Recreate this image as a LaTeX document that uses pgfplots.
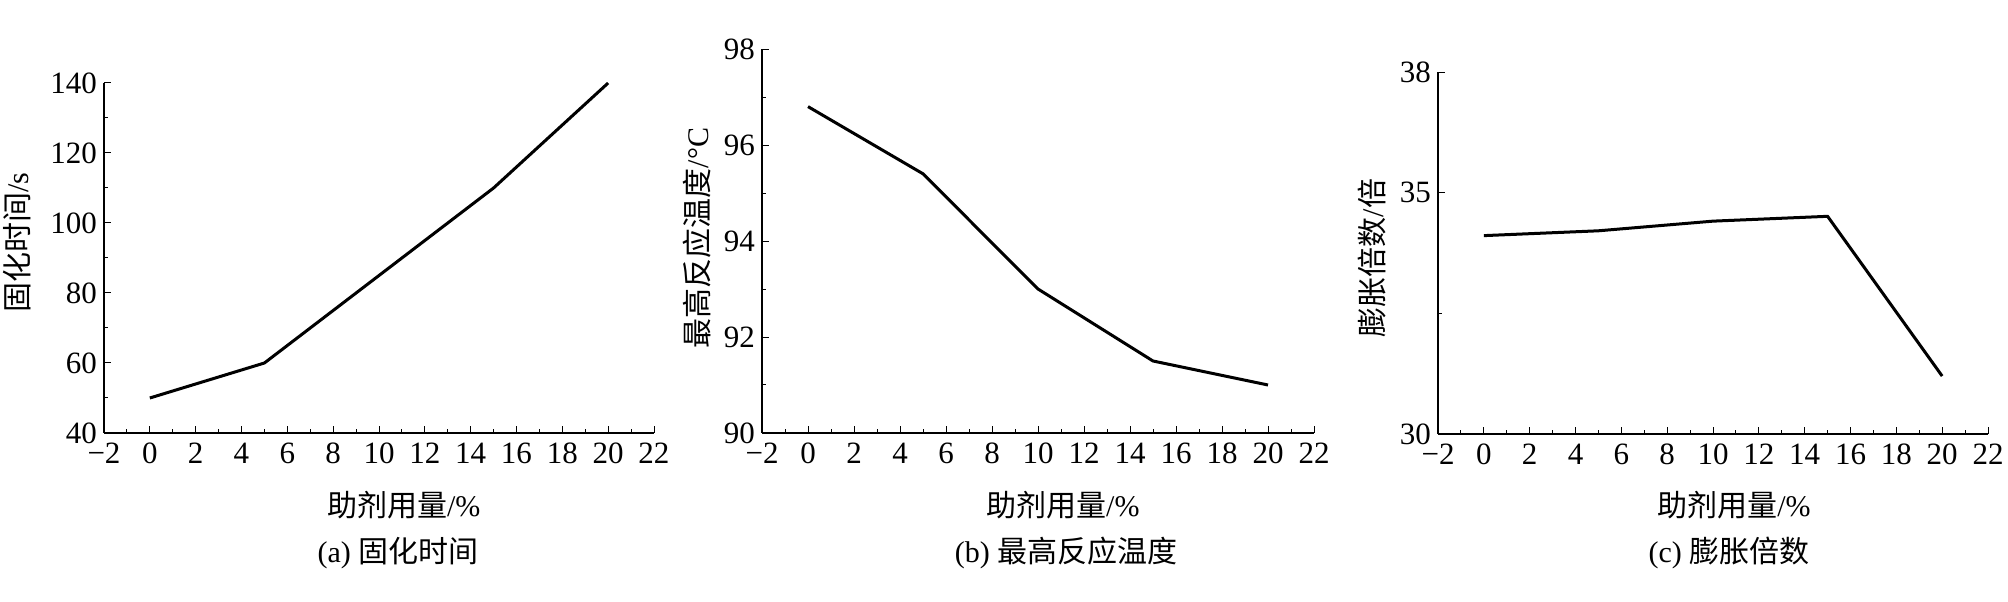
\documentclass[border=0pt]{standalone}
\usepackage{fontspec}
\setmainfont{Liberation Serif}
\newfontfamily\cjk{Noto Sans CJK SC}
\usepackage{pgfplots}
\pgfplotsset{compat=1.18}

\newcommand\numfont{\fontsize{15.5bp}{18bp}\selectfont}
\newcommand\labfont{\fontsize{15bp}{18bp}\selectfont}

\pgfplotsset{
  panel/.style={
    scale only axis,
    anchor=south west,
    axis lines=left,
    axis line style={-, line width=0.6bp},
    tick style={line width=0.5bp, black},
    tick align=inside,
    major tick length=3.5bp,
    minor tick length=2bp,
    xmin=-2, xmax=22,
    xtick={-2,0,...,22},
    xticklabels={−2,0,2,4,6,8,10,12,14,16,18,20,22},
    minor x tick num=1,
    /pgf/number format/assume math mode=true,
    tick label style={font=\numfont},
    xticklabel style={yshift=-1.5bp},
    label style={font=\labfont},
  },
  curve/.style={black, line width=1.5bp, mark=none},
}

\begin{document}
\begin{tikzpicture}
\useasboundingbox (0,0) rectangle (1004bp,301bp);

% (a) curing time
\begin{axis}[panel,
  at={(52bp,84.5bp)}, width=275bp, height=175bp,
  ymin=40, ymax=140, ytick={40,60,...,140}, minor y tick num=1,
  xlabel={{\cjk 助剂用量}/\%},
  ylabel={{\cjk 固化时间}/s},
  xlabel style={at={(axis description cs:0.545,-0.206)}, anchor=center},
  ylabel style={at={(axis description cs:-0.158,0.543)}, anchor=center},
]
\addplot[curve] coordinates {(0,50) (5,60) (10,85) (15,110) (20,140)};
\end{axis}

% (b) max reaction temperature
\begin{axis}[panel,
  at={(381bp,84.5bp)}, width=276bp, height=192bp,
  ymin=90, ymax=98, ytick={90,92,...,98}, minor y tick num=1,
  xlabel={{\cjk 助剂用量}/\%},
  ylabel={{\cjk 最高反应温度}/°C},
  xlabel style={at={(axis description cs:0.545,-0.1875)}, anchor=center},
  ylabel style={at={(axis description cs:-0.118,0.508)}, anchor=center},
]
\addplot[curve] coordinates {(0,96.8) (5,95.4) (10,93.0) (15,91.5) (20,91.0)};
\end{axis}

% (c) expansion ratio
\begin{axis}[panel,
  at={(719bp,84bp)}, width=275bp, height=181bp,
  ymin=30, ymax=37.5, ytick={30,35,37.5}, yticklabels={30,35,38},
  minor ytick={32.5},
  xlabel={{\cjk 助剂用量}/\%},
  ylabel={{\cjk 膨胀倍数}/{\cjk 倍}},
  xlabel style={at={(axis description cs:0.538,-0.196)}, anchor=center},
  ylabel style={at={(axis description cs:-0.12,0.486)}, anchor=center},
]
\addplot[curve] coordinates {(0,34.11) (5,34.21) (10,34.41) (15,34.51) (20,31.2)};
\end{axis}

% sub-captions
\node[font=\labfont] at (199bp,24.5bp) {(a) {\cjk 固化时间}};
\node[font=\labfont] at (533bp,24.5bp) {(b) {\cjk 最高反应温度}};
\node[font=\labfont] at (864.5bp,24.5bp) {(c) {\cjk 膨胀倍数}};
\end{tikzpicture}
\end{document}
